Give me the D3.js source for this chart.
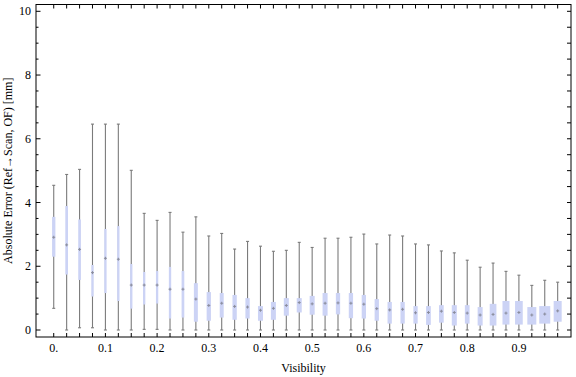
<!DOCTYPE html>
<html>
<head>
<meta charset="utf-8">
<script src="https://cdn.jsdelivr.net/npm/d3@7"></script>
<style>
  body { margin: 0; background: #fff; }
  text { font-family: "Liberation Serif", "DejaVu Serif", serif; fill: #000; }
</style>
</head>
<body>
<div id="chart"></div>
<script>
// Box-whisker data, one entry per visibility bin
const visibility = [0.000, 0.025, 0.050, 0.075, 0.100, 0.125, 0.150, 0.175, 0.200, 0.225,
                    0.250, 0.275, 0.300, 0.325, 0.350, 0.375, 0.400, 0.425, 0.450, 0.475,
                    0.500, 0.525, 0.550, 0.575, 0.600, 0.625, 0.650, 0.675, 0.700, 0.725,
                    0.750, 0.775, 0.800, 0.825, 0.850, 0.875, 0.900, 0.925, 0.950, 0.975];
const whiskerLow = [0.68, 0.00, 0.07, 0.07, 0.00, 0.00, 0.00, 0.02, 0.02, 0.00,
                    0.00, 0.00, 0.00, 0.00, 0.00, 0.00, 0.00, 0.00, 0.00, 0.00,
                    0.00, 0.00, 0.00, 0.00, 0.00, 0.00, 0.00, 0.00, 0.00, 0.00,
                    0.00, 0.00, 0.00, 0.00, 0.00, 0.00, 0.00, 0.00, 0.00, 0.00];
const q1 = [2.30, 1.74, 1.57, 1.05, 1.16, 0.91, 0.67, 0.80, 0.83, 0.36,
            0.39, 0.26, 0.29, 0.39, 0.32, 0.36, 0.29, 0.32, 0.45, 0.55,
            0.48, 0.45, 0.49, 0.37, 0.36, 0.29, 0.20, 0.20, 0.20, 0.16,
            0.23, 0.14, 0.20, 0.14, 0.14, 0.17, 0.17, 0.17, 0.20, 0.26];
const median = [2.91, 2.67, 2.53, 1.80, 2.25, 2.22, 1.41, 1.41, 1.41, 1.28,
                1.28, 0.97, 0.77, 0.84, 0.74, 0.72, 0.62, 0.68, 0.77, 0.86,
                0.82, 0.84, 0.85, 0.84, 0.81, 0.67, 0.63, 0.65, 0.54, 0.55,
                0.59, 0.55, 0.53, 0.47, 0.49, 0.53, 0.55, 0.47, 0.50, 0.60];
const q3 = [3.55, 3.89, 3.47, 2.04, 3.17, 3.26, 2.07, 1.82, 1.85, 1.98,
            1.85, 1.47, 1.19, 1.16, 1.10, 1.00, 0.75, 0.88, 1.00, 1.00,
            1.07, 1.16, 1.16, 1.16, 1.10, 0.97, 0.88, 0.88, 0.75, 0.75,
            0.78, 0.78, 0.78, 0.72, 0.82, 0.91, 0.91, 0.72, 0.75, 0.91];
const whiskerHigh = [4.54, 4.88, 5.04, 6.46, 6.46, 6.46, 5.01, 3.66, 3.44, 3.69,
                     3.07, 3.55, 2.95, 3.03, 2.54, 2.78, 2.63, 2.47, 2.50, 2.75,
                     2.59, 2.88, 2.88, 2.91, 3.01, 2.70, 2.98, 2.95, 2.70, 2.67,
                     2.48, 2.42, 2.19, 1.97, 2.10, 1.84, 1.72, 1.40, 1.56, 1.50];
// box widths, in visibility units
const boxWidth = [0.0064, 0.0052, 0.0052, 0.0045, 0.0045, 0.0045, 0.0045, 0.0045, 0.0045, 0.0045,
                  0.0052, 0.0077, 0.0083, 0.0077, 0.0083, 0.0083, 0.0097, 0.0097, 0.0097, 0.0097,
                  0.0097, 0.0097, 0.0083, 0.0083, 0.0083, 0.0083, 0.0083, 0.0083, 0.0083, 0.0091,
                  0.0091, 0.0097, 0.0091, 0.0097, 0.0130, 0.0135, 0.0149, 0.0174, 0.0213, 0.0155];

const xTickValues = [0, 0.1, 0.2, 0.3, 0.4, 0.5, 0.6, 0.7, 0.8, 0.9];
const xTickLabels = ['0.', '0.1', '0.2', '0.3', '0.4', '0.5', '0.6', '0.7', '0.8', '0.9'];
const yTickValues = [0, 2, 4, 6, 8, 10];
const yMinorValues = [0.5, 1, 1.5, 2.5, 3, 3.5, 4.5, 5, 5.5, 6.5, 7, 7.5, 8.5, 9, 9.5];

function renderBoxWhisker() {
    const W = 576, H = 377;
    const frame = { left: 36, right: 571, top: 4.5, bottom: 337 };

    const svg = d3.select('#chart').append('svg')
        .attr('width', W)
        .attr('height', H);

    // scales
    const x = d3.scaleLinear().domain([-0.0343, 1.0008]).range([frame.left, frame.right]);
    const y = d3.scaleLinear().domain([0, 10]).range([330, 11.3]);

    const data = visibility.map((v, i) => ({
        v, lo: whiskerLow[i], q1: q1[i], med: median[i], q3: q3[i], hi: whiskerHigh[i], w: boxWidth[i]
    }));

    // boxes and whiskers
    const g = svg.append('g');
    const items = g.selectAll('.item').data(data).enter().append('g').attr('class', 'item');

    items.append('line')
        .attr('x1', d => x(d.v)).attr('x2', d => x(d.v))
        .attr('y1', d => y(d.lo)).attr('y2', d => y(d.hi))
        .attr('stroke', '#7b7b7b').attr('stroke-width', 1.1);

    items.append('line')
        .attr('x1', d => x(d.v) - 1.5).attr('x2', d => x(d.v) + 1.5)
        .attr('y1', d => y(d.hi)).attr('y2', d => y(d.hi))
        .attr('stroke', '#7b7b7b').attr('stroke-width', 1.1);

    items.append('line')
        .attr('x1', d => x(d.v) - 1.5).attr('x2', d => x(d.v) + 1.5)
        .attr('y1', d => y(d.lo)).attr('y2', d => y(d.lo))
        .attr('stroke', '#7b7b7b').attr('stroke-width', 1.1);

    items.append('rect')
        .attr('x', d => x(d.v - d.w / 2))
        .attr('width', d => x(d.v + d.w / 2) - x(d.v - d.w / 2))
        .attr('y', d => y(d.q3))
        .attr('height', d => y(d.q1) - y(d.q3))
        .attr('fill', '#ccd3f5');

    // median marks
    items.append('line')
        .attr('x1', d => x(d.v) - 1.5).attr('x2', d => x(d.v) + 1.5)
        .attr('y1', d => y(d.med)).attr('y2', d => y(d.med))
        .attr('stroke', '#8a8c9c').attr('stroke-width', 1);
    items.append('line')
        .attr('x1', d => x(d.v)).attr('x2', d => x(d.v))
        .attr('y1', d => y(d.med) - 1.5).attr('y2', d => y(d.med) + 1.5)
        .attr('stroke', '#8a8c9c').attr('stroke-width', 1);

    // frame
    svg.append('rect')
        .attr('x', frame.left).attr('y', frame.top)
        .attr('width', frame.right - frame.left)
        .attr('height', frame.bottom - frame.top)
        .attr('fill', 'none').attr('stroke', '#000').attr('stroke-width', 1);

    // bottom / top ticks at every bin
    const tickG = svg.append('g').attr('stroke', '#000').attr('stroke-width', 1);
    tickG.selectAll('.bt').data(visibility).enter().append('line')
        .attr('x1', d => x(d)).attr('x2', d => x(d))
        .attr('y1', frame.bottom).attr('y2', frame.bottom - 4);
    tickG.selectAll('.tt').data(visibility).enter().append('line')
        .attr('x1', d => x(d)).attr('x2', d => x(d))
        .attr('y1', frame.top).attr('y2', frame.top + 4);

    // left / right ticks
    tickG.selectAll('.lmaj').data(yTickValues).enter().append('line')
        .attr('x1', frame.left).attr('x2', frame.left + 4.5)
        .attr('y1', d => y(d)).attr('y2', d => y(d));
    tickG.selectAll('.lmin').data(yMinorValues).enter().append('line')
        .attr('x1', frame.left).attr('x2', frame.left + 2.5)
        .attr('y1', d => y(d)).attr('y2', d => y(d));
    tickG.selectAll('.rmaj').data(yTickValues.concat(yMinorValues)).enter().append('line')
        .attr('x1', frame.right).attr('x2', frame.right - 4)
        .attr('y1', d => y(d)).attr('y2', d => y(d));

    // tick labels
    svg.selectAll('.xl').data(xTickValues).enter().append('text')
        .attr('x', d => x(d)).attr('y', 352)
        .attr('text-anchor', 'middle').style('font-size', '12px')
        .text((d, i) => xTickLabels[i]);

    svg.selectAll('.yl').data(yTickValues).enter().append('text')
        .attr('x', 31).attr('y', d => y(d) + 4)
        .attr('text-anchor', 'end').style('font-size', '12px')
        .text(d => d);

    // axis titles
    svg.append('text')
        .attr('x', (frame.left + frame.right) / 2).attr('y', 372)
        .attr('text-anchor', 'middle').style('font-size', '12px')
        .text('Visibility');

    svg.append('text')
        .attr('transform', `translate(12,${(frame.top + frame.bottom) / 2}) rotate(-90)`)
        .attr('text-anchor', 'middle').style('font-size', '12px')
        .text('Absolute Error (Ref\u2192Scan, OF) [mm]');
}

renderBoxWhisker();
</script>
</body>
</html>
